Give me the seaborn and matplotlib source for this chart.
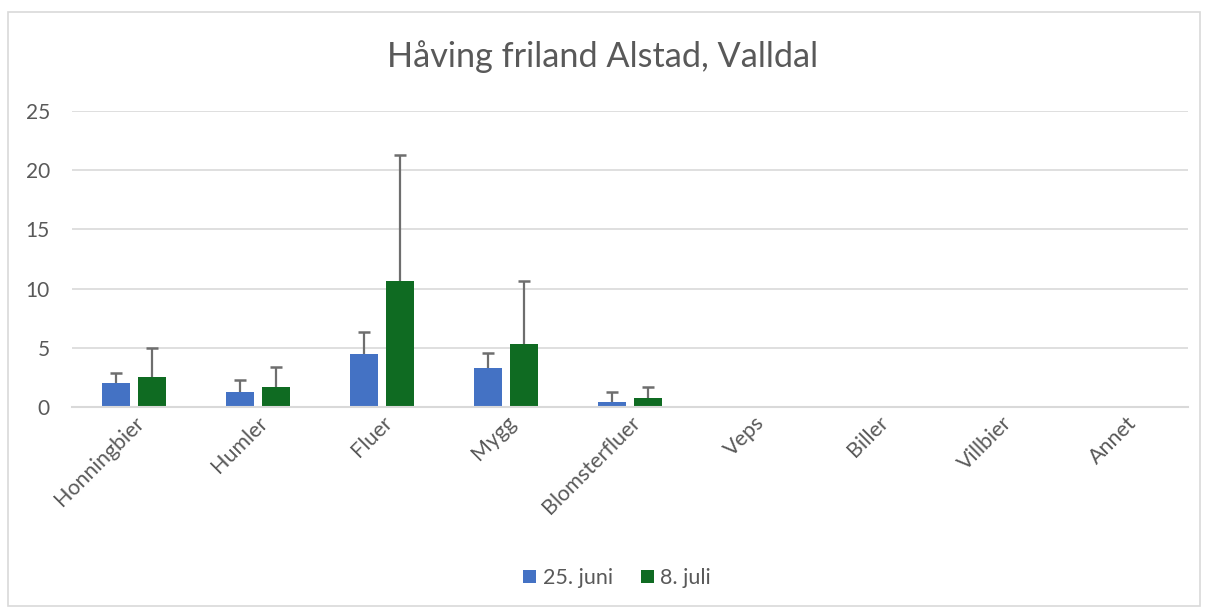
import pandas as pd
import seaborn as sns
import matplotlib.pyplot as plt
from matplotlib.patches import Rectangle

sns.set_theme(style="white")
plt.rcParams["font.family"] = ["Lato", "DejaVu Sans"]

categories = ["Honningbier", "Humler", "Fluer", "Mygg", "Blomsterfluer",
              "Veps", "Biller", "Villbier", "Annet"]
dates = ["25. juni", "8. juli"]
juni = [2.0, 1.3, 4.45, 3.3, 0.45, 0, 0, 0, 0]
juni_err = [0.9, 1.0, 1.85, 1.25, 0.85, 0, 0, 0, 0]
juli = [2.5, 1.65, 10.6, 5.3, 0.75, 0, 0, 0, 0]
juli_err = [2.5, 1.7, 10.7, 5.35, 0.9, 0, 0, 0, 0]

df = pd.DataFrame({
    "Kategori": categories * 2,
    "Antall": juni + juli,
    "Dato": [dates[0]] * len(categories) + [dates[1]] * len(categories),
})
errs = [juni_err, juli_err]
colors = ["#4472c4", "#0f6b22"]
grid_col = "#d9d9d9"
text_col = "#595959"

fig = plt.figure(figsize=(12.06, 6.10), dpi=100)
ax = fig.add_axes([0.0597, 0.3328, 0.9254, 0.4852])

sns.barplot(data=df, x="Kategori", y="Antall", hue="Dato", palette=colors,
            saturation=1, errorbar=None, width=0.58, gap=0.22, linewidth=0,
            ax=ax)

# error bars, plus direction only (like Excel)
cap = 0.048
for cont, err in zip(ax.containers, errs):
    for p, e in zip(cont.patches, err):
        if e > 0:
            xc = p.get_x() + p.get_width() / 2
            top = p.get_height() + e
            ax.vlines(xc, p.get_height(), top, color="#6e6e6e",
                      linewidth=1.6, zorder=3)
            ax.hlines(top, xc - cap, xc + cap, color="#6e6e6e",
                      linewidth=1.8, zorder=3)

ax.set_ylim(0, 25)
ax.set_yticks(range(0, 26, 5))
ax.set_xlim(-0.5, len(categories) - 0.5)
ax.grid(axis="y", color=grid_col, linewidth=1.2)
ax.set_axisbelow(True)
for s in ["top", "right", "left"]:
    ax.spines[s].set_visible(False)
ax.spines["bottom"].set_color(grid_col)
ax.spines["bottom"].set_linewidth(1.5)
ax.tick_params(axis="both", length=0, colors=text_col)
ax.tick_params(axis="y", pad=16, labelsize=15)
ax.tick_params(axis="x", labelsize=15.5, pad=4)
plt.setp(ax.get_xticklabels(), rotation=45, ha="right",
         rotation_mode="anchor")
ax.set_xlabel("")
ax.set_ylabel("")

fig.text(0.5, 1 - 57 / 610, "Håving friland Alstad, Valldal", fontsize=24.7,
         color=text_col, ha="center", va="center")

ax.legend(loc="center", bbox_to_anchor=(0.5116, 0.0525),
          bbox_transform=fig.transFigure, ncol=2, frameon=False,
          fontsize=15.5, handlelength=0.6, handleheight=0.6,
          handletextpad=0.3, columnspacing=1.3, labelcolor=text_col)

fig.patches.append(Rectangle((8 / 1206, 4 / 610), 1192 / 1206, 594 / 610,
                             transform=fig.transFigure, fill=False,
                             edgecolor=grid_col, linewidth=1.2))

fig.savefig("out.png", dpi=100)
